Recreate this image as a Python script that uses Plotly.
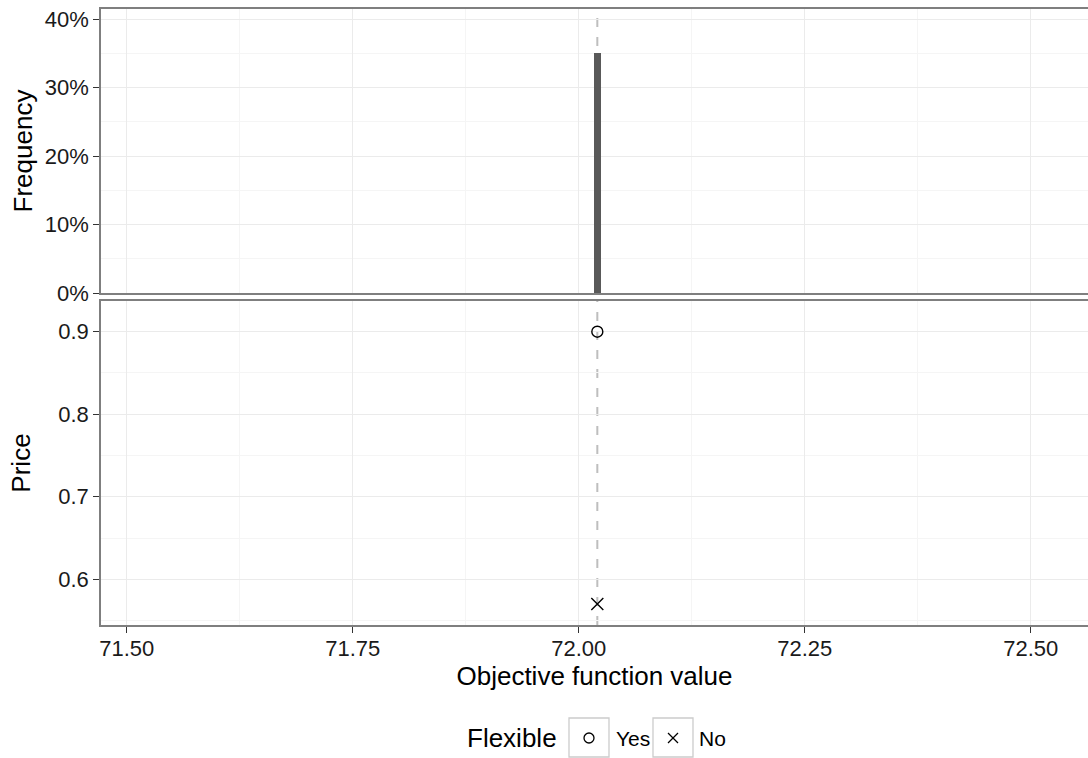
import plotly.graph_objects as go

# ---------------- data ----------------
hist_x = [72.0206]          # objective function value (histogram bin centre)
hist_freq = [0.35]          # frequency share
bin_width = 0.0074

point_obj = [72.0206, 72.0206]
point_price = [0.90, 0.57]
point_flexible = ["Yes", "No"]

best_value = 72.0206        # dashed reference line

x_ticks = [71.50, 71.75, 72.00, 72.25, 72.50]
freq_ticks = [0.0, 0.1, 0.2, 0.3, 0.4]
price_ticks = [0.6, 0.7, 0.8, 0.9]

# ---------------- layout geometry (pixels) ----------------
W, H = 1088, 758
L, R, T, B = 101, 1088, 9, 625
FONT = "Liberation Sans, Arial, Helvetica, sans-serif"
BORDER = "#7f7f7f"
GRID = "#ebebeb"
GRID_MINOR = "#f5f5f5"


def px_x(p):
    return (p - L) / (R - L)


def px_y(p):
    return (B - p) / (B - T)


fig = go.Figure()

fig.add_trace(go.Bar(
    x=hist_x, y=hist_freq, width=[bin_width] * len(hist_x),
    marker=dict(color="#595959", line=dict(width=0)),
    xaxis="x2", yaxis="y2", showlegend=False, hoverinfo="x+y"))

symbol_map = {"Yes": "circle-open", "No": "x-thin"}
size_map = {"Yes": 11, "No": 12}
for flex in ["Yes", "No"]:
    xs = [x for x, f in zip(point_obj, point_flexible) if f == flex]
    ys = [y for y, f in zip(point_price, point_flexible) if f == flex]
    fig.add_trace(go.Scatter(
        x=xs, y=ys, mode="markers", name=flex,
        marker=dict(symbol=symbol_map[flex], size=size_map[flex], color="black",
                    line=dict(width=1.4, color="black")),
        xaxis="x", yaxis="y", showlegend=False))

x_range = [71.5 - (126.7 - L) / 904, 71.5 + (R - 126.7) / 904]

axis_common = dict(
    showgrid=True, gridcolor=GRID, gridwidth=1, zeroline=False,
    showline=True, linecolor=BORDER, linewidth=1.5,
    tickfont=dict(family=FONT, size=22, color="#1a1a1a"),
)

fig.update_layout(
    width=W, height=H,
    margin=dict(l=L, r=W - R, t=T, b=H - B),
    paper_bgcolor="white", plot_bgcolor="white",
    font=dict(family=FONT, color="#1a1a1a"),
    bargap=0,
    xaxis=dict(
        **axis_common, domain=[0, 1], anchor="y", range=x_range,
        tickmode="array", tickvals=x_ticks, ticktext=[f"{v:.2f}" for v in x_ticks],
        ticks="outside", ticklen=6, tickwidth=1.3, tickcolor="#333333",
        ticklabelstandoff=-3,
        mirror=True,
        minor=dict(dtick=0.125, tick0=71.5, showgrid=True, gridcolor=GRID_MINOR, gridwidth=1),
        title=dict(text="Objective function value", standoff=2,
                   font=dict(family=FONT, size=26, color="#000000")),
    ),
    yaxis=dict(
        **axis_common, domain=[0, (B - 301) / (B - T)], anchor="x",
        range=[0.5446, 0.9372],
        tickmode="array", tickvals=price_ticks, ticktext=[f"{v:.1f}" for v in price_ticks],
        ticks="outside", ticklen=6, tickwidth=1.3, tickcolor="#333333",
        minor=dict(dtick=0.05, tick0=0.55, showgrid=True, gridcolor=GRID_MINOR, gridwidth=1),
        title=dict(text="Price", standoff=20,
                   font=dict(family=FONT, size=26, color="#000000")),
    ),
    xaxis2=dict(
        **axis_common, domain=[0, 1], anchor="y2", range=x_range, matches="x",
        tickmode="array", tickvals=x_ticks, showticklabels=False, ticks="",
        mirror=True,
        minor=dict(dtick=0.125, tick0=71.5, showgrid=True, gridcolor=GRID_MINOR, gridwidth=1),
    ),
    yaxis2=dict(
        **axis_common, domain=[(B - 293) / (B - T), 1], anchor="x2",
        range=[0, 0.415],
        tickmode="array", tickvals=freq_ticks, ticktext=[f"{v:.0%}" for v in freq_ticks],
        ticks="outside", ticklen=6, tickwidth=1.3, tickcolor="#333333",
        minor=dict(dtick=0.05, tick0=0, showgrid=True, gridcolor=GRID_MINOR, gridwidth=1),
        title=dict(text="Frequency", standoff=5,
                   font=dict(family=FONT, size=26, color="#000000")),
    ),
)

# dashed reference line in both panels (drawn beneath the data marks)
for xr, yr in [("x", "y domain"), ("x2", "y2 domain")]:
    fig.add_shape(type="line", xref=xr, yref=yr, x0=best_value, x1=best_value,
                  y0=0, y1=1, line=dict(color="#bebebe", width=2, dash="9px,10px"),
                  layer="below")

# ---------------- custom legend ----------------
ly = 738
fig.add_annotation(text="Flexible", xref="paper", yref="paper",
                   x=px_x(559), y=px_y(ly), xanchor="right", yanchor="middle",
                   showarrow=False, font=dict(family=FONT, size=26, color="#000000"))
for bx0, label, lx in [(569, "Yes", 614), (653, "No", 697)]:
    fig.add_shape(type="rect", xref="paper", yref="paper",
                  x0=px_x(bx0), x1=px_x(bx0 + 40), y0=px_y(757), y1=px_y(718),
                  line=dict(color="#cccccc", width=1.3), fillcolor="white")
    fig.add_annotation(text=label, xref="paper", yref="paper",
                       x=px_x(lx), y=px_y(ly), xanchor="left", yanchor="middle",
                       showarrow=False, font=dict(family=FONT, size=21, color="#000000"))
# key symbols
fig.add_shape(type="circle", xref="paper", yref="paper",
              x0=px_x(584), x1=px_x(594), y0=px_y(743), y1=px_y(733),
              line=dict(color="black", width=1.3))
fig.add_shape(type="line", xref="paper", yref="paper",
              x0=px_x(668), x1=px_x(678), y0=px_y(733), y1=px_y(743),
              line=dict(color="black", width=1.3))
fig.add_shape(type="line", xref="paper", yref="paper",
              x0=px_x(668), x1=px_x(678), y0=px_y(743), y1=px_y(733),
              line=dict(color="black", width=1.3))

fig.write_html("out.html")
